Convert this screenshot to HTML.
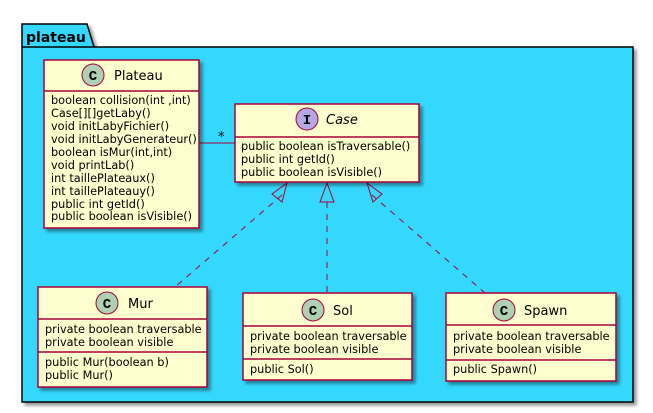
<!DOCTYPE html>
<html><head><style>
body{margin:0;background:#fff}
svg{display:block}
text{font-family:"DejaVu Sans","Liberation Sans",sans-serif;font-size:11.3px;fill:#000}
</style></head><body>
<svg width="653" height="413" viewBox="0 0 653 413" xmlns="http://www.w3.org/2000/svg">
<defs><filter id="s" x="-10%" y="-10%" width="130%" height="130%"><feGaussianBlur in="SourceAlpha" stdDeviation="1.5"/><feOffset dx="3" dy="3"/><feComponentTransfer><feFuncA type="linear" slope="0.4"/></feComponentTransfer><feMerge><feMergeNode/><feMergeNode in="SourceGraphic"/></feMerge></filter></defs>
<g filter="url(#s)">
<path d="M22,24 H87 L94,47 H633 V402 H22 Z" fill="#35D8FD" stroke="#000" stroke-width="1.5"/>
</g>
<line x1="22" y1="47" x2="94" y2="47" stroke="#000" stroke-width="1.5"/>
<text x="26" y="42" style="font-size:14px;font-weight:bold">plateau</text>

<g stroke="#A80036" fill="none">
<line x1="199" y1="143" x2="235" y2="143"/>
<line x1="282" y1="195" x2="175" y2="287" stroke-dasharray="6,6"/>
<line x1="327" y1="202" x2="327" y2="293" stroke-dasharray="6,6"/>
<line x1="372" y1="195" x2="485" y2="293" stroke-dasharray="6,6"/>
<polygon points="287,183 282,202 272,194" />
<polygon points="327,183 320,202 334,202"/>
<polygon points="367,183 382,194 373,202"/>
</g>
<text x="218" y="141" style="font-size:13px">*</text>

<g fill="#FEFECE" stroke="#A80036" stroke-width="1.5" filter="url(#s)">
<rect x="44" y="60" width="155" height="168"/>
<rect x="235" y="104" width="184" height="78"/>
<rect x="38" y="287" width="169" height="100"/>
<rect x="243" y="293" width="169" height="87"/>
<rect x="446" y="293" width="170" height="88"/>
</g>
<g stroke="#A80036" stroke-width="1.5">
<line x1="44" y1="91" x2="199" y2="91"/>
<line x1="235" y1="137" x2="419" y2="137"/>
<line x1="38" y1="319" x2="207" y2="319"/>
<line x1="38" y1="352" x2="207" y2="352"/>
<line x1="243" y1="326" x2="412" y2="326"/>
<line x1="243" y1="359" x2="412" y2="359"/>
<line x1="446" y1="325" x2="616" y2="325"/>
<line x1="446" y1="360" x2="616" y2="360"/>
</g>
<g stroke="#A80036" stroke-width="1">
<circle cx="93" cy="75" r="11" fill="#ADD1B2"/>
<circle cx="307" cy="119" r="11" fill="#B4A7E5"/>
<circle cx="107" cy="303" r="11" fill="#ADD1B2"/>
<circle cx="313" cy="310" r="11" fill="#ADD1B2"/>
<circle cx="504" cy="310" r="11" fill="#ADD1B2"/>
</g>
<g text-anchor="middle">
<text x="93" y="80" style="font-size:14px;font-weight:bold;font-family:'Liberation Mono',monospace">C</text>
<text x="307" y="124" style="font-size:14px;font-weight:bold;font-family:'Liberation Mono',monospace">I</text>
<text x="107" y="308" style="font-size:14px;font-weight:bold;font-family:'Liberation Mono',monospace">C</text>
<text x="313" y="315" style="font-size:14px;font-weight:bold;font-family:'Liberation Mono',monospace">C</text>
<text x="504" y="315" style="font-size:14px;font-weight:bold;font-family:'Liberation Mono',monospace">C</text>
</g>
<text x="114" y="80" style="font-size:13px">Plateau</text>
<text x="326" y="124" style="font-size:13px;font-style:italic">Case</text>
<text x="128" y="308" style="font-size:13px">Mur</text>
<text x="333" y="315" style="font-size:13px">Sol</text>
<text x="524" y="315" style="font-size:13px">Spawn</text>

<text x="51" y="104">boolean collision(int ,int)</text>
<text x="51" y="117">Case[][]getLaby()</text>
<text x="51" y="130">void initLabyFichier()</text>
<text x="51" y="143">void initLabyGenerateur()</text>
<text x="51" y="156">boolean isMur(int,int)</text>
<text x="51" y="169">void printLab()</text>
<text x="51" y="182">int taillePlateaux()</text>
<text x="51" y="195">int taillePlateauy()</text>
<text x="51" y="208">public int getId()</text>
<text x="51" y="220">public boolean isVisible()</text>

<text x="241" y="150">public boolean isTraversable()</text>
<text x="241" y="163">public int getId()</text>
<text x="241" y="176">public boolean isVisible()</text>

<text x="45" y="333">private boolean traversable</text>
<text x="45" y="346">private boolean visible</text>
<text x="45" y="366">public Mur(boolean b)</text>
<text x="45" y="379">public Mur()</text>

<text x="250" y="340">private boolean traversable</text>
<text x="250" y="353">private boolean visible</text>
<text x="250" y="373">public Sol()</text>

<text x="453" y="340">private boolean traversable</text>
<text x="453" y="353">private boolean visible</text>
<text x="453" y="373">public Spawn()</text>
</svg>
</body></html>
